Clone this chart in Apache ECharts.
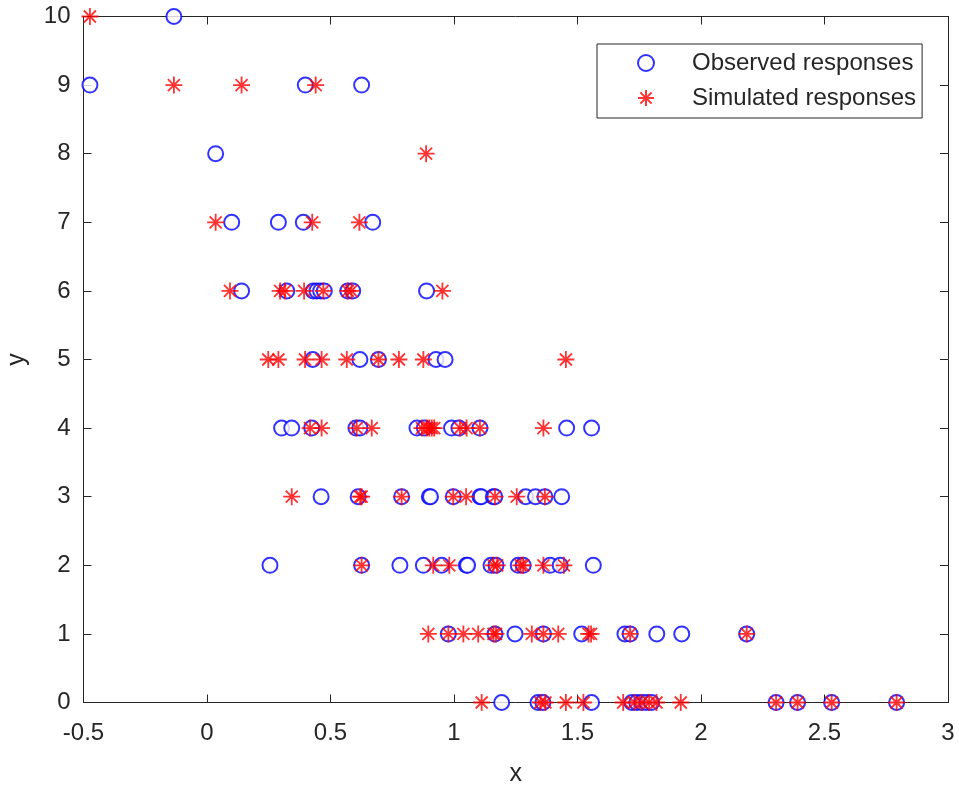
<!DOCTYPE html>
<html>
<head>
<meta charset="utf-8">
<script src="https://cdn.jsdelivr.net/npm/echarts@6/dist/echarts.min.js"></script>
<style>html,body{margin:0;padding:0;background:#fff;}#c{width:959px;height:786px;}</style>
</head>
<body>
<div id="c"></div>
<script>
// Response levels (y) 0..10
const yLevels = [0,1,2,3,4,5,6,7,8,9,10];
// x values of observed responses, grouped by y level (index = y)
const observedX = [
  [1.193, 1.34, 1.36, 1.557, 1.72, 1.74, 1.76, 1.78, 1.80, 2.304, 2.391, 2.529, 2.792],
  [0.977, 1.166, 1.247, 1.362, 1.517, 1.692, 1.713, 1.821, 1.922, 2.185],
  [0.255, 0.626, 0.781, 0.876, 0.95, 1.05, 1.055, 1.15, 1.17, 1.26, 1.28, 1.389, 1.43, 1.564],
  [0.462, 0.612, 0.788, 0.900, 0.905, 0.997, 1.105, 1.110, 1.159, 1.165, 1.29, 1.33, 1.368, 1.436],
  [0.302, 0.343, 0.424, 0.603, 0.619, 0.85, 0.88, 0.99, 1.02, 1.105, 1.456, 1.557],
  [0.428, 0.619, 0.694, 0.927, 0.964],
  [0.140, 0.323, 0.43, 0.445, 0.46, 0.475, 0.57, 0.59, 0.889],
  [0.100, 0.289, 0.390, 0.671],
  [0.035],
  [-0.474, 0.398, 0.626],
  [-0.134]
];
// x values of simulated responses, grouped by y level (index = y)
const simulatedX = [
  [1.112, 1.35, 1.37, 1.453, 1.524, 1.685, 1.73, 1.76, 1.79, 1.82, 1.918, 2.304, 2.391, 2.529, 2.792],
  [0.896, 0.977, 1.038, 1.098, 1.16, 1.17, 1.315, 1.362, 1.422, 1.545, 1.555, 1.713, 2.185],
  [0.626, 0.916, 0.981, 1.16, 1.175, 1.27, 1.28, 1.362, 1.445],
  [0.343, 0.62, 0.626, 0.788, 0.997, 1.049, 1.166, 1.254, 1.368],
  [0.417, 0.464, 0.606, 0.667, 0.87, 0.89, 0.90, 0.91, 0.92, 1.024, 1.051, 1.105, 1.362],
  [0.248, 0.289, 0.397, 0.464, 0.566, 0.694, 0.777, 0.876, 1.453],
  [0.093, 0.296, 0.316, 0.393, 0.471, 0.57, 0.585, 0.953],
  [0.035, 0.426, 0.617],
  [0.887],
  [-0.134, 0.140, 0.440],
  [-0.474]
];
const seriesNames = ['Observed responses', 'Simulated responses'];
const xTicks = {min: -0.5, max: 3, interval: 0.5};
const yTicks = {min: 0, max: 10, interval: 1};

function toPoints(groups) {
  const pts = [];
  groups.forEach((xs, i) => xs.forEach(x => pts.push([x, yLevels[i]])));
  return pts;
}

const axisColor = '#262626';
const font = '"Liberation Sans", Arial, Helvetica, sans-serif';
const starPath = 'path://M0,-10L0,10M-10,0L10,0M-7.07,-7.07L7.07,7.07M-7.07,7.07L7.07,-7.07';

function axisCommon(showLabel) {
  return {
    axisLine: {show: true, onZero: false, lineStyle: {color: axisColor, width: 1}},
    axisTick: {show: true, inside: true, length: 8, lineStyle: {color: axisColor, width: 1}},
    axisLabel: {show: showLabel, color: axisColor, fontSize: 24, fontFamily: font},
    splitLine: {show: false}
  };
}

const chart = echarts.init(document.getElementById('c'), null, {renderer: 'canvas'});
chart.setOption({
  animation: false,
  backgroundColor: '#ffffff',
  grid: {left: 83.5, right: 11, top: 16.5, bottom: 83.5, containLabel: false, outerBoundsMode: 'none'},
  xAxis: [
    Object.assign({type: 'value', position: 'bottom', min: xTicks.min, max: xTicks.max, interval: xTicks.interval,
      name: 'x', nameLocation: 'middle', nameGap: 59,
      nameTextStyle: {color: axisColor, fontSize: 25, fontFamily: font}}, axisCommon(true),
      {axisLabel: {show: true, color: axisColor, fontSize: 24, fontFamily: font, margin: 19}}),
    Object.assign({type: 'value', position: 'top', min: xTicks.min, max: xTicks.max, interval: xTicks.interval}, axisCommon(false))
  ],
  yAxis: [
    Object.assign({type: 'value', position: 'left', min: yTicks.min, max: yTicks.max, interval: yTicks.interval,
      name: 'y', nameLocation: 'middle', nameGap: 54, nameRotate: 90,
      nameTextStyle: {color: axisColor, fontSize: 25, fontFamily: font}}, axisCommon(true),
      {axisLabel: {show: true, color: axisColor, fontSize: 24, fontFamily: font, margin: 13}}),
    Object.assign({type: 'value', position: 'right', min: yTicks.min, max: yTicks.max, interval: yTicks.interval}, axisCommon(false))
  ],
  legend: {
    orient: 'vertical',
    left: 597, top: 44,
    padding: [7, 6, 8, 40],
    itemWidth: 16, itemHeight: 16, itemGap: 11,
    borderColor: axisColor, borderWidth: 1,
    backgroundColor: '#ffffff',
    textStyle: {color: axisColor, fontSize: 24, fontFamily: font, padding: [0, 0, 0, 33]},
    data: seriesNames
  },
  series: [
    {
      name: seriesNames[0], type: 'scatter', xAxisIndex: 0, yAxisIndex: 0,
      symbol: 'emptyCircle', symbolSize: 15, clip: false,
      itemStyle: {color: '#0000ff', borderColor: '#0000ff', borderWidth: 1.6},
      data: toPoints(observedX)
    },
    {
      name: seriesNames[1], type: 'scatter', xAxisIndex: 0, yAxisIndex: 0,
      symbol: starPath, symbolSize: 17, symbolKeepAspect: true, clip: false,
      itemStyle: {color: 'rgba(0,0,0,0)', borderColor: '#ff0000', borderWidth: 1.8},
      data: toPoints(simulatedX)
    }
  ]
});
</script>
</body>
</html>
